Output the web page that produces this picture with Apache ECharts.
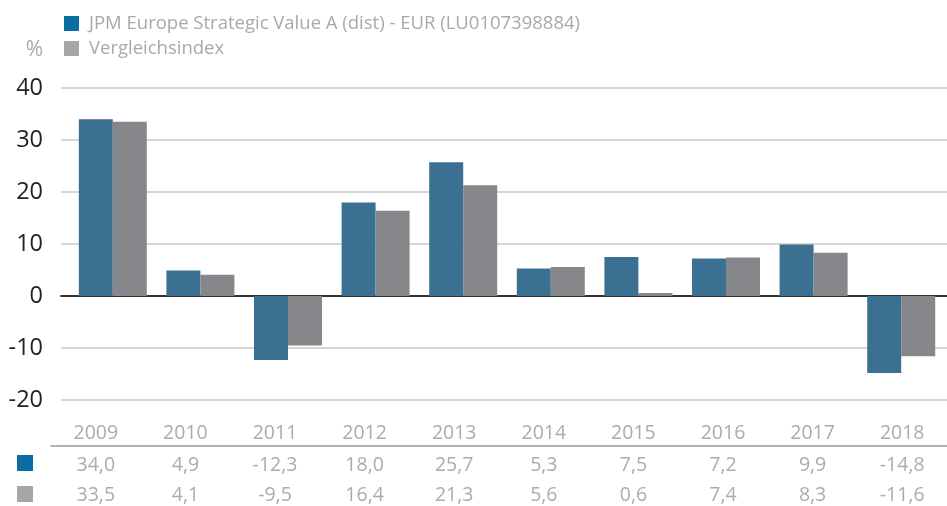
<!DOCTYPE html>
<html>
<head>
<meta charset="utf-8">
<script src="https://cdn.jsdelivr.net/npm/echarts@6/dist/echarts.min.js"></script>
<style>
  html, body { margin: 0; padding: 0; background: #fff; }
  #chart { width: 947px; height: 506px; }
</style>
</head>
<body>
<div id="chart"></div>
<script>
// Annual performance, fund vs. benchmark (%)
var years = ['2009', '2010', '2011', '2012', '2013', '2014', '2015', '2016', '2017', '2018'];
var fundValues = [34.0, 4.9, -12.3, 18.0, 25.7, 5.3, 7.5, 7.2, 9.9, -14.8];
var indexValues = [33.5, 4.1, -9.5, 16.4, 21.3, 5.6, 0.6, 7.4, 8.3, -11.6];
var yTicks = [-20, -10, 0, 10, 20, 30, 40];

var fundName = 'JPM Europe Strategic Value A (dist) - EUR (LU0107398884)';
var indexName = 'Vergleichsindex';

var FONT = 'Open Sans';
var fmt = function (v) { return v.toFixed(1).replace('.', ','); };

var chart = echarts.init(document.getElementById('chart'));
var option = {
  animation: false,
  textStyle: { fontFamily: FONT },
  legend: [{
    orient: 'vertical',
    left: 64,
    top: 14,
    padding: 0,
    itemWidth: 15,
    itemHeight: 15,
    itemGap: 6,
    icon: 'rect',
    selectedMode: false,
    textStyle: { fontSize: 18.5, color: '#a9a9ab', padding: [0, 0, 0, 5] },
    data: [
      { name: fundName, itemStyle: { color: '#0b6c9f' } },
      { name: indexName, itemStyle: { color: '#a6a6aa' } }
    ]
  }, {
    orient: 'vertical',
    left: 17,
    top: 455,
    padding: 0,
    itemWidth: 16,
    itemHeight: 16,
    itemGap: 15,
    icon: 'rect',
    selectedMode: false,
    formatter: function () { return ''; },
    data: [
      { name: fundName, itemStyle: { color: '#0b6c9f' } },
      { name: indexName, itemStyle: { color: '#a6a6aa' } }
    ]
  }],
  grid: [
    // gridlines + y labels
    { left: 61, right: 0, top: 88, height: 312, outerBoundsMode: 'none' },
    // bars
    { left: 69, width: 876, top: 88, height: 312, outerBoundsMode: 'none' },
    // thin strip: year labels above, separator line
    { left: 51, width: 896, top: 445, height: 1, outerBoundsMode: 'none' },
    // value rows
    { left: 51, width: 896, top: 446, height: 58, outerBoundsMode: 'none' }
  ],
  xAxis: [{
    gridIndex: 0,
    type: 'category',
    data: years,
    axisLine: { onZero: true, lineStyle: { color: '#333', width: 2 } },
    axisTick: { show: false },
    axisLabel: { show: false }
  }, {
    gridIndex: 1,
    type: 'category',
    data: years,
    show: false
  }, {
    gridIndex: 2,
    type: 'category',
    position: 'top',
    data: years,
    axisLine: { lineStyle: { color: '#999', width: 1.5 } },
    axisTick: { show: false },
    axisLabel: { margin: 2, fontSize: 19.5, color: '#acacac' }
  }, {
    gridIndex: 3,
    type: 'category',
    position: 'top',
    data: years,
    axisLine: { show: false, onZero: false },
    axisTick: { show: false },
    axisLabel: {
      inside: true,
      margin: 4,
      color: '#acacac',
      formatter: function (v, i) {
        return '{a|' + fmt(fundValues[i]) + '}\n{b|' + fmt(indexValues[i]) + '}';
      },
      rich: {
        a: { fontSize: 19.5, color: '#acacac', lineHeight: 30, fontFamily: FONT },
        b: { fontSize: 19.5, color: '#acacac', lineHeight: 30, fontFamily: FONT }
      }
    }
  }],
  yAxis: [{
    gridIndex: 0,
    type: 'value',
    min: yTicks[0],
    max: yTicks[yTicks.length - 1],
    interval: 10,
    name: '%',
    nameLocation: 'end',
    nameGap: 27,
    nameTextStyle: { fontSize: 21, color: '#a9a9ab', align: 'right', padding: [0, 18, 0, 0] },
    axisLine: { show: false },
    axisTick: { show: false },
    axisLabel: { margin: 18, fontSize: 23.5, color: '#222', padding: [0, 0, 7, 0] },
    splitLine: { lineStyle: { color: '#c8c8c8', width: 1.5 } }
  }, {
    gridIndex: 1,
    type: 'value',
    min: yTicks[0],
    max: yTicks[yTicks.length - 1],
    interval: 10,
    show: false,
    splitLine: { show: false }
  }, {
    gridIndex: 2,
    type: 'value',
    show: false,
    splitLine: { show: false }
  }, {
    gridIndex: 3,
    type: 'value',
    show: false,
    splitLine: { show: false }
  }],
  series: [{
    name: fundName,
    type: 'bar',
    xAxisIndex: 1,
    yAxisIndex: 1,
    barWidth: 34,
    barGap: '0%',
    itemStyle: { color: '#3c7093' },
    data: fundValues
  }, {
    name: indexName,
    type: 'bar',
    xAxisIndex: 1,
    yAxisIndex: 1,
    barWidth: 34,
    barGap: '0%',
    itemStyle: { color: '#86878b' },
    data: indexValues
  }]
};
chart.setOption(option);

window.addEventListener('resize', function () {
  chart.resize();
});
</script>
</body>
</html>
